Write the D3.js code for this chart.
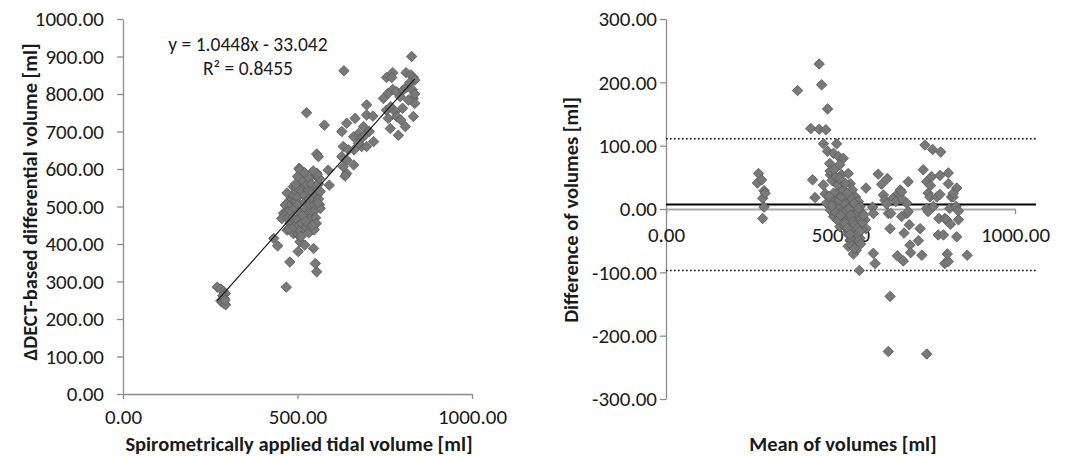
<!DOCTYPE html>
<html>
<head>
<meta charset="utf-8">
<script src="https://cdn.jsdelivr.net/npm/d3@7"></script>
<style>
  body { margin: 0; background: #fff; }
  text { font-family: Carlito, Lato, "Open Sans", sans-serif; fill: #1a1a1a; }
</style>
</head>
<body>
<script>
// spirometric volume vs dect volume [ml]
const corrPoints = [
  [270,285],[280,280],[288,274],[293,268],[286,262],[290,255],[280,248],[287,243],[294,238],[292,250],
  [432,415],[443,395],[468,285],[478,352],[526,750],[577,717],[633,862],[827,900],[555,326],[551,348],
  [546,388],[502,380],[507,406],[521,397],
  [755,844],[773,857],[770,844],[811,857],[825,851],[832,844],[836,837],[746,788],[760,802],[773,812],
  [784,806],[794,793],[803,811],[812,818],[822,830],[829,811],[832,788],[836,775],[755,757],[767,766],
  [780,753],[760,735],[766,708],[789,690],[809,713],[832,740],[784,740],[796,731],[801,762],[818,784],[836,800],
  [627,700],[641,722],[665,735],[698,771],[698,744],[716,741],[718,673],[689,713],[675,695],[661,686],
  [680,679],[694,691],[706,700],[684,660],[662,651],[698,660],[631,660],[646,651],[627,633],[641,624],
  [661,611],[631,606],[641,588],[636,581],[675,668],[588,597],[591,557],[555,640],[560,633],
  [505,602],[517,584],[488,553],[507,562],[526,566],[550,584],[555,589],[560,576],[470,536],[479,518],
  [465,504],[460,482],[471,487],[467,473],[455,468],[479,455],[470,437],[488,428],[502,424],[540,437],
  [470,480],[472,470],[478,490],[482,505],[485,520],[488,530],[480,455],[476,440],[490,445],[486,470],
  [492,495],[494,515],[496,540],[498,550],[500,525],[502,505],[504,485],[500,465],[505,450],[508,435],
  [510,420],[512,455],[506,598],[515,575],[518,560],[512,540],[520,530],[522,512],[525,495],[528,478],
  [530,465],[526,445],[532,430],[535,450],[538,470],[540,490],[536,505],[534,520],[530,545],[526,560],
  [532,575],[540,560],[544,540],[546,520],[548,505],[550,490],[552,470],[554,455],[548,438],[556,530],
  [558,545],[560,560],[562,575],[557,585],[560,520],[563,505],[565,495],[545,595],[520,590],[510,570],
  [495,560],[500,580],[515,475],[523,460],[542,450],[558,510],[565,540]
];

// bland-altman: mean of volumes, difference of volumes [ml]
const baPoints = [
  [265,56],[262,41],[274,46],[281,29],[277,17],[281,3],[277,-15],[284,25],
  [377,187],[439,229],[446,196],[463,158],[415,127],[439,126],[458,125],[451,103],[489,103],
  [420,46],[427,18],[451,38],[456,24],
  [463,91],[469,72],[471,54],[480,88],[494,83],[508,80],[498,70],[503,54],[522,56],[528,40],
  [534,30],[543,19],[551,12],[556,4],[563,-7],[570,-17],[573,-31],[556,-46],[545,-65],[537,-71],
  [554,-97],[528,-49],[518,-38],[498,-28],[480,-12],[471,-2],[460,9],[478,14],[489,25],[484,43],
  [503,35],[513,19],[522,9],[532,-2],[541,-12],[551,-23],[560,-33],[537,-33],[518,-17],[508,-7],
  [498,4],[494,-7],[510,9],[528,19],[546,-7],[556,-17],[541,-38],[532,-49],[546,-54],[522,-59],
  [535,-28],[513,-28],[489,4],[480,25],[496,14],[516,-2],[539,9],[551,1],
  [470,60],[476,45],[482,62],[487,50],[492,38],[497,48],[503,20],[508,30],[514,40],[519,25],
  [524,0],[530,-10],[536,-20],[542,-25],[548,-40],[553,-50],[558,-55],[562,-22],[566,-10],[505,-15],
  [512,-22],[520,-30],[527,-40],[533,-58],[540,-62],[549,-30],[555,-35],[485,-5],[492,-18],[500,-10],
  [475,5],[467,20],
  [573,33],[592,3],[594,-7],[594,-70],[599,-86],[608,55],[618,39],[623,22],[627,14],[634,48],
  [637,-7],[644,-7],[642,-31],[632,8],[651,17],[659,12],[666,25],[671,30],[675,27],[680,14],
  [675,-12],[682,-38],[663,-74],[680,-82],[690,9],[690,-7],[694,43],[697,-25],[699,-57],[701,-69],
  [694,-4],[723,-50],[728,-31],[733,-73],[642,-138],[637,-225],[737,62],[742,101],[747,43],[751,25],
  [756,19],[758,37],[764,94],[761,51],[747,1],[751,-4],[766,4],[747,-229],[776,19],[785,23],
  [785,53],[787,90],[782,-15],[780,-41],[795,-41],[799,-15],[804,-17],[813,1],[818,19],[823,19],
  [815,-24],[809,57],[809,40],[799,-86],[809,-83],[806,-71],[831,4],[838,-3],[838,-17],[833,-44],
  [863,-73],[833,33],[823,25]
];

const fitSlope = 1.0448;
const fitIntercept = -33.042;
const fitLabels = ["y = 1.0448x - 33.042", "R\u00b2 = 0.8455"];

const baMean = 7;
const baLimits = [111, -97];
const baLineEnd = 1060;

const leftTicksX = [0, 500, 1000];
const leftTicksY = d3.range(0, 1001, 100);
const rightTicksX = [0, 500, 1000];
const rightTicksY = d3.range(-300, 301, 100);

const width = 1083, height = 456;
const fmt = d => d.toFixed(2);   // plain hyphen for negatives, like the original
const axisColor = "#8c8c8c";
const tickFont = "21px";
const titleFont = "20.5px";

const svg = d3.select("body").append("svg")
    .attr("width", width)
    .attr("height", height);

const diamond = d3.symbol().type(d3.symbolSquare).size(55);

function styleAxis(g) {
    g.select(".domain").attr("stroke", axisColor).attr("stroke-width", 1.3);
    g.selectAll(".tick line").attr("stroke", axisColor).attr("stroke-width", 1.3);
    g.selectAll(".tick text").style("font-size", tickFont).attr("fill", "#1a1a1a");
}

function drawDiamonds(g, data, x, y) {
    g.selectAll(".pt")
        .data(data)
        .enter().append("path")
        .attr("class", "pt")
        .attr("d", diamond)
        .attr("transform", d => `translate(${x(d[0])},${y(d[1])}) rotate(45)`)
        .attr("fill", "#787878")
        .attr("stroke", "#5c5c5c")
        .attr("stroke-width", 0.8);
}

// ---- left panel
const xL = d3.scaleLinear().domain([0, 1000]).range([123, 472]);
const yL = d3.scaleLinear().domain([0, 1000]).range([394, 19]);

const left = svg.append("g");

left.append("g")
    .attr("transform", `translate(0,${yL(0)})`)
    .call(d3.axisBottom(xL).tickValues(leftTicksX).tickFormat(fmt).tickSize(5).tickSizeOuter(0).tickPadding(10))
    .call(styleAxis);

left.append("g")
    .attr("transform", `translate(${xL(0)},0)`)
    .call(d3.axisLeft(yL).tickValues(leftTicksY).tickFormat(fmt).tickSize(6).tickSizeOuter(0).tickPadding(13))
    .call(styleAxis);

drawDiamonds(left, corrPoints, xL, yL);

const fitExt = d3.extent(corrPoints, d => d[0]);
left.append("line")
    .attr("x1", xL(fitExt[0]))
    .attr("y1", yL(fitSlope * fitExt[0] + fitIntercept))
    .attr("x2", xL(fitExt[1]))
    .attr("y2", yL(fitSlope * fitExt[1] + fitIntercept))
    .attr("stroke", "#111")
    .attr("stroke-width", 1.1);

left.selectAll(".eq")
    .data(fitLabels)
    .enter().append("text")
    .attr("class", "eq")
    .attr("x", 248)
    .attr("y", (d, i) => 51 + i * 24)
    .attr("text-anchor", "middle")
    .style("font-size", "19.5px")
    .text(d => d);

left.append("text")
    .attr("x", 299)
    .attr("y", 451)
    .attr("text-anchor", "middle")
    .style("font-size", titleFont)
    .style("font-weight", "bold")
    .text("Spirometrically applied tidal volume [ml]");

left.append("text")
    .attr("transform", "translate(37,202) rotate(-90)")
    .attr("text-anchor", "middle")
    .style("font-size", titleFont)
    .style("font-weight", "bold")
    .text("\u0394DECT-based differential volume [ml]");

// ---- right panel
const xR = d3.scaleLinear().domain([0, 1000]).range([666, 1015]);
const yR = d3.scaleLinear().domain([-300, 300]).range([399, 19]);

const right = svg.append("g");

right.append("g")
    .attr("transform", `translate(${xR(0)},0)`)
    .call(d3.axisLeft(yR).tickValues(rightTicksY).tickFormat(fmt).tickSize(6).tickSizeOuter(0).tickPadding(3))
    .call(styleAxis);

const xAxisR = right.append("g")
    .attr("transform", `translate(0,${yR(0)})`)
    .call(d3.axisBottom(xR).tickValues(rightTicksX).tickFormat(fmt).tickSize(5).tickSizeOuter(0).tickPadding(13))
    .call(styleAxis);
xAxisR.select(".domain").attr("stroke", "#a8a8a8").attr("stroke-width", 2);

right.append("line")
    .attr("x1", xR(0)).attr("x2", xR(baLineEnd))
    .attr("y1", yR(baMean)).attr("y2", yR(baMean))
    .attr("stroke", "#000")
    .attr("stroke-width", 2);

right.selectAll(".lim")
    .data(baLimits)
    .enter().append("line")
    .attr("class", "lim")
    .attr("x1", xR(0)).attr("x2", xR(baLineEnd))
    .attr("y1", d => yR(d)).attr("y2", d => yR(d))
    .attr("stroke", "#000")
    .attr("stroke-width", 1.6)
    .attr("stroke-dasharray", "1.6,2.4");

drawDiamonds(right, baPoints, xR, yR);

right.append("text")
    .attr("x", 843)
    .attr("y", 451)
    .attr("text-anchor", "middle")
    .style("font-size", titleFont)
    .style("font-weight", "bold")
    .text("Mean of volumes [ml]");

right.append("text")
    .attr("transform", "translate(578,210) rotate(-90)")
    .attr("text-anchor", "middle")
    .style("font-size", titleFont)
    .style("font-weight", "bold")
    .text("Difference of volumes [ml]");
</script>
</body>
</html>
